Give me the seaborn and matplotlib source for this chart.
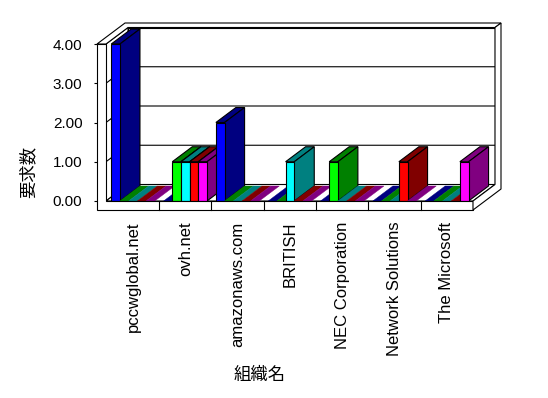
import numpy as np
import pandas as pd
import matplotlib
matplotlib.use("Agg")
import matplotlib.pyplot as plt
import seaborn as sns
from matplotlib.patches import Polygon, Rectangle

# ---- data ----
categories = ["pccwglobal.net", "ovh.net", "amazonaws.com", "BRITISH",
              "NEC Corporation", "Network Solutions", "The Microsoft"]
series_names = ["系列1", "系列2", "系列3", "系列4", "系列5"]
series1 = [4, 0, 2, 0, 0, 0, 0]
series2 = [0, 1, 0, 0, 1, 0, 0]
series3 = [0, 1, 0, 1, 0, 0, 0]
series4 = [0, 1, 0, 0, 0, 1, 0]
series5 = [0, 1, 0, 0, 0, 0, 1]
colors = ["#0000FF", "#00FF00", "#00FFFF", "#FF0000", "#FF00FF"]
yticks = [0, 1, 2, 3, 4]
ylabel = "要求数"
xlabel = "組織名"

all_series = [series1, series2, series3, series4, series5]
rows = []
for name, vals in zip(series_names, all_series):
    for c, v in zip(categories, vals):
        rows.append({"組織名": c, "要求数": v, "系列": name})
df = pd.DataFrame(rows)

plt.rcParams["font.family"] = ["Liberation Sans", "Noto Sans CJK JP"]
cjk = ["Noto Sans CJK JP", "DejaVu Sans"]

W, H = 548, 398
fig = plt.figure(figsize=(W / 100, H / 100), dpi=100)
fig.patch.set_facecolor("white")
ax_l, ax_r, ax_t, ax_b = 97, 473, 44, 201
ax = fig.add_axes([ax_l / W, (H - ax_b) / H, (ax_r - ax_l) / W, (ax_b - ax_t) / H])

sns.barplot(data=df, x="組織名", y="要求数", hue="系列", order=categories,
            hue_order=series_names, palette=colors, saturation=1, width=0.83,
            gap=0, edgecolor="black", linewidth=0.8, legend=False,
            errorbar=None, ax=ax)

x0lim, x1lim = -0.688, 6.5
ax.set_xlim(x0lim, x1lim)
ax.set_ylim(0, 4)
ax.set_facecolor("none")
for s in ax.spines.values():
    s.set_visible(False)

kx = (x1lim - x0lim) / (ax_r - ax_l)   # data per px
ky = 4 / (ax_b - ax_t)


def P(x, y, d):
    return (x + d * kx, y + 0.75 * d * ky)


def poly(pts, fc="white", ec="black", lw=0.8, z=1):
    ax.add_patch(Polygon(pts, closed=True, facecolor=fc, edgecolor=ec,
                         linewidth=lw, zorder=z, clip_on=False))


xL = x0lim
xLi = xL + 9 * kx
xR = x1lim
yB = -9 * ky
yT = 4
Dw, Do, Db = 22, 28, 20

# back wall, left inner wall, floor top
poly([P(xLi, yT, Dw), P(xR, yT, Dw), P(xR, 0, Dw), P(xLi, 0, Dw)], z=1)
poly([P(xLi, yT, 0), P(xLi, yT, Dw), P(xLi, 0, Dw), P(xLi, 0, 0)], z=1)
poly([P(xLi, 0, 0), P(xR, 0, 0), P(xR, 0, Dw), P(xLi, 0, Dw)], z=1)
for v in yticks[1:-1]:
    pts = [P(xLi, v, 0), P(xLi, v, Dw), P(xR, v, Dw)]
    ax.plot([p[0] for p in pts], [p[1] for p in pts], color="black",
            lw=0.8, zorder=1.5, clip_on=False)

# bars in pseudo 3D
bars = sorted([p for p in ax.patches if isinstance(p, Rectangle)],
              key=lambda p: p.get_x())
for i, p in enumerate(bars):
    x0, w, h = p.get_x(), p.get_width(), p.get_height()
    fc = p.get_facecolor()[:3]
    dark = tuple(c * 0.5 for c in fc)
    z = 3 + i * 0.01
    p.set_zorder(z + 0.005)
    p.set_clip_on(False)
    top = [P(x0, h, 0), P(x0 + w, h, 0), P(x0 + w, h, Db), P(x0, h, Db)]
    if h > 0:
        poly(top, fc=dark, z=z)
        poly([P(x0 + w, 0, 0), P(x0 + w, h, 0), P(x0 + w, h, Db),
              P(x0 + w, 0, Db)], fc=dark, z=z)
    else:
        poly(top, fc=dark, ec=dark, lw=0.3, z=z)
        p.set_linewidth(0)

# front slabs
poly([(xL, yT), (xLi, yT), (xLi, 0), (xR, 0), (xR, yB), (xL, yB)], z=5)
poly([P(xL, yT, 0), P(xLi, yT, 0), P(xLi, yT, Dw), P(xR, yT, Dw),
      P(xR, yT, Do), P(xL, yT, Do)], z=5)
poly([P(xR, 0, 0), P(xR, 0, Dw), P(xR, yT, Dw), P(xR, yT, Do),
      P(xR, yB, Do), P(xR, yB, 0)], z=5)
for b in np.arange(0.5, len(categories) - 1, 1.0):
    ax.plot([b, b], [0, yB], color="black", lw=0.8, zorder=6, clip_on=False)

# ticks & labels
ax.set_yticks(yticks)
ax.set_yticklabels([f"{v:.2f}" for v in yticks], fontsize=11)
ax.tick_params(axis="y", length=2.5, width=0.8, pad=8, direction="out")
ax.set_xticks(range(len(categories)))
ax.set_xticklabels(categories, rotation=90, fontsize=12, va="top")
ax.tick_params(axis="x", length=0, pad=15)

ax.set_ylabel(ylabel, family=cjk, fontsize=12.5)
ax.yaxis.set_label_coords((28 - ax_l) / (ax_r - ax_l), (ax_b - 172) / (ax_b - ax_t))
ax.yaxis.label.set_va("center")
ax.set_xlabel(xlabel, family=cjk, fontsize=12.5)
ax.xaxis.set_label_coords((260 - ax_l) / (ax_r - ax_l), (ax_b - 375) / (ax_b - ax_t))
ax.xaxis.label.set_va("center")

fig.savefig("out.png", dpi=100, facecolor="white")
